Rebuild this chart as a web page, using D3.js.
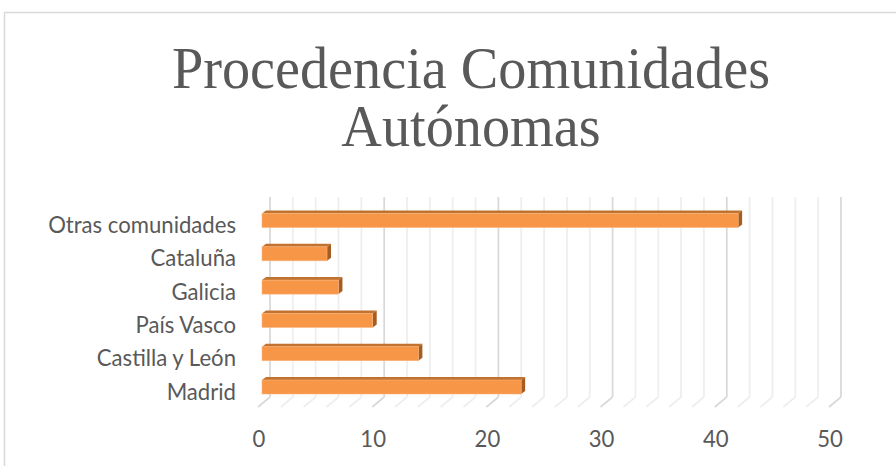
<!DOCTYPE html>
<html>
<head>
<meta charset="utf-8">
<script src="https://cdn.jsdelivr.net/npm/d3@7"></script>
<style>
  body { margin: 0; background: #fff; }
  svg { display: block; }
</style>
</head>
<body>
<svg id="chart" width="896" height="466"></svg>
<script>
// Datos del gráfico (de arriba a abajo)
const categories = ['Otras comunidades', 'Cataluña', 'Galicia', 'País Vasco', 'Castilla y León', 'Madrid'];
const values = [42, 6, 7, 10, 14, 23];
const tickValues = [0, 10, 20, 30, 40, 50];
const titleLines = ['Procedencia Comunidades', 'Autónomas'];

const svg = d3.select('#chart');
const textColor = '#595959';

// borde del área del gráfico
svg.append('rect')
  .attr('x', 4.5).attr('y', 12.5)
  .attr('width', 1000).attr('height', 1000)
  .attr('fill', 'none')
  .attr('stroke', '#d9d9d9')
  .attr('stroke-width', 1.5);

// escala frontal (suelo) y desplazamiento de profundidad 3D
const x = d3.scaleLinear().domain([0, 50]).range([258, 829]);
const depth = { dx: 12, dy: -10 };
const floorY = 407;
const wallTop = 197;

const y = d3.scalePoint().domain(categories).range([220.5, 387]);
const barH = 14;
const barDepth = { dx: 4, dy: -3 };

// cuadrícula: pared del fondo + suelo
const grid = svg.append('g');
d3.range(0, 51, 2).forEach(v => {
  const major = v % 10 === 0;
  const col = major ? '#d9d9d9' : '#eeeeee';
  grid.append('line')
    .attr('x1', x(v) + depth.dx).attr('x2', x(v) + depth.dx)
    .attr('y1', wallTop).attr('y2', floorY + depth.dy)
    .attr('stroke', col).attr('stroke-width', 1.75);
  grid.append('line')
    .attr('x1', x(v)).attr('y1', floorY)
    .attr('x2', x(v) + depth.dx).attr('y2', floorY + depth.dy)
    .attr('stroke', col).attr('stroke-width', 1.75);
});

// barras 3D
const bars = svg.append('g').selectAll('g')
  .data(categories.map((c, i) => ({ cat: c, val: values[i] })))
  .enter().append('g');

bars.each(function (d) {
  const g = d3.select(this);
  const x0 = x(0) + 4;
  const x1 = x(d.val) + 0.5;
  const top = y(d.cat) - barH / 2;
  const bot = y(d.cat) + barH / 2;
  const { dx, dy } = barDepth;
  // cara superior
  g.append('path')
    .attr('d', `M${x0},${top}L${x0 + dx},${top + dy}L${x1 + dx},${top + dy}L${x1},${top}Z`)
    .attr('fill', '#c2722f');
  // cara lateral
  g.append('path')
    .attr('d', `M${x1},${top}L${x1 + dx},${top + dy}L${x1 + dx},${bot + dy}L${x1},${bot}Z`)
    .attr('fill', '#a65d22');
  // cara frontal
  g.append('rect')
    .attr('x', x0).attr('y', top)
    .attr('width', x1 - x0).attr('height', barH)
    .attr('fill', '#f79646')
    .attr('stroke', '#fbb47a').attr('stroke-width', 0.6);
});

// ajusta el tamaño de letra para que el texto mida lo que en la imagen
function fitSize(sel, target) {
  const w = sel.node().getComputedTextLength();
  const fs = parseFloat(sel.attr('font-size'));
  sel.attr('font-size', fs * target / w);
  return fs * target / w;
}

// etiquetas de categoría
const labelFont = 'Lato, "Noto Sans", sans-serif';
const probe = svg.append('text')
  .attr('font-family', labelFont).attr('font-size', 20)
  .text(categories[0]);
const labelSize = fitSize(probe, 188);
probe.remove();

svg.append('g').selectAll('text')
  .data(categories)
  .enter().append('text')
  .attr('x', 236)
  .attr('y', d => y(d) + 4)
  .attr('text-anchor', 'end')
  .attr('dominant-baseline', 'central')
  .attr('font-family', labelFont)
  .attr('font-size', labelSize)
  .attr('fill', textColor)
  .text(d => d);

// etiquetas del eje de valores
svg.append('g').selectAll('text')
  .data(tickValues)
  .enter().append('text')
  .attr('x', d => x(d) + 1)
  .attr('y', 438)
  .attr('text-anchor', 'middle')
  .attr('dominant-baseline', 'central')
  .attr('font-family', labelFont)
  .attr('font-size', labelSize)
  .attr('fill', textColor)
  .text(d => d);

// título (un poco estirado en vertical para parecerse a Cambria)
const titleFont = '"Liberation Serif", serif';
const t1 = svg.append('text')
  .attr('transform', 'translate(471,88) scale(1,1.05)')
  .attr('text-anchor', 'middle')
  .attr('font-family', titleFont)
  .attr('font-size', 50)
  .attr('fill', textColor)
  .text(titleLines[0]);
const titleSize = fitSize(t1, 598);
svg.append('text')
  .attr('transform', 'translate(471,146) scale(1,1.05)')
  .attr('text-anchor', 'middle')
  .attr('font-family', titleFont)
  .attr('font-size', titleSize)
  .attr('fill', textColor)
  .text(titleLines[1]);
</script>
</body>
</html>
